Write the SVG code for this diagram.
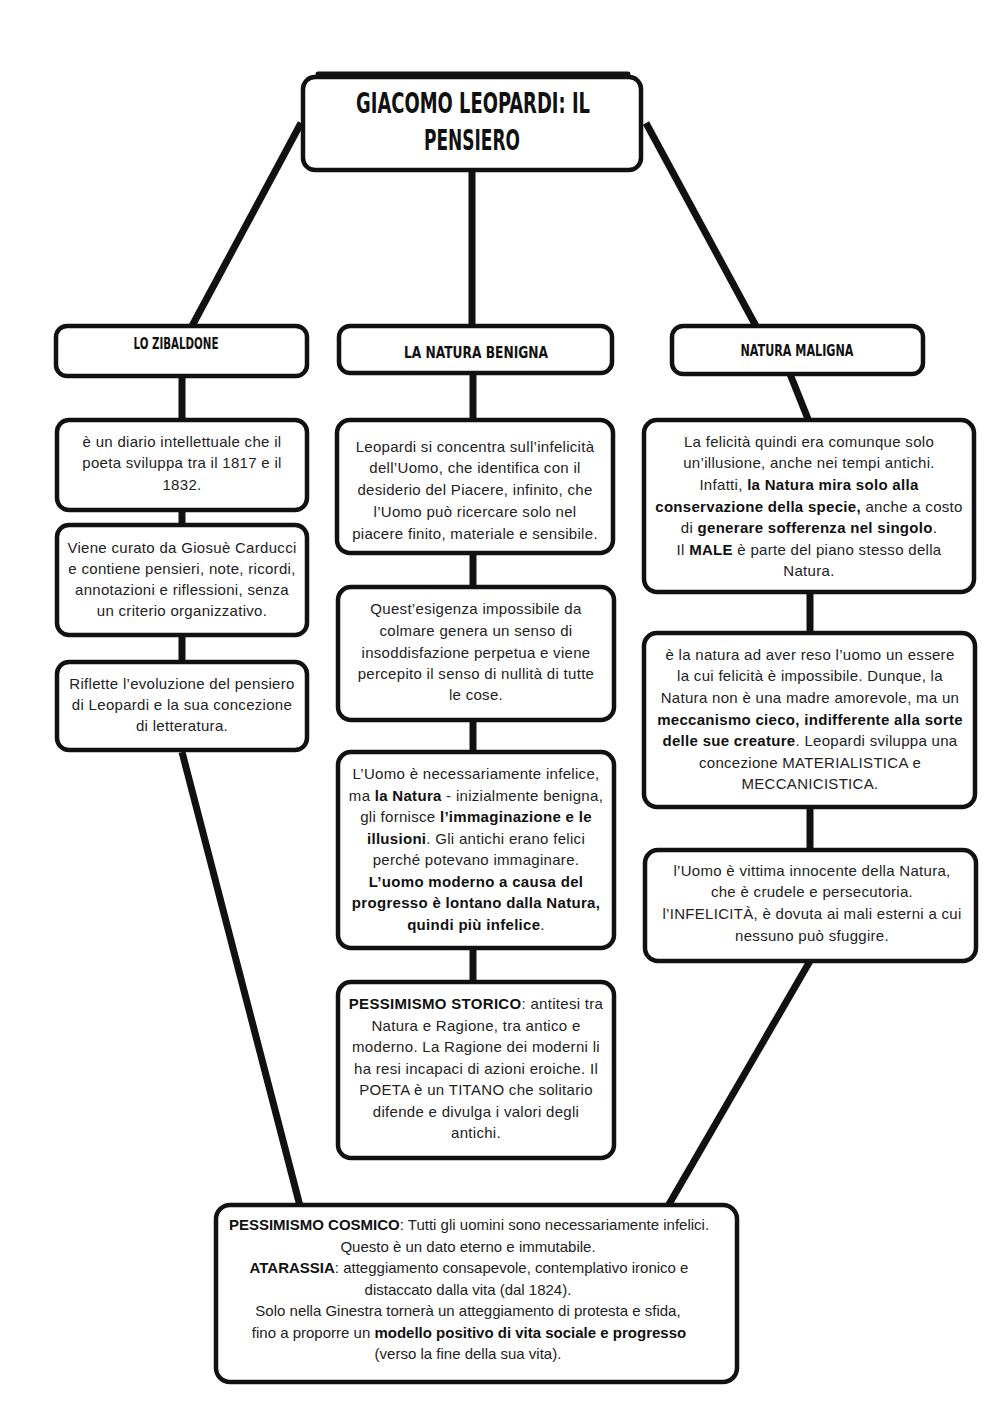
<svg xmlns="http://www.w3.org/2000/svg" width="1000" height="1414" viewBox="0 0 1000 1414">
<style>
.box{fill:#fff;stroke:#111;stroke-width:4.5}
.con{stroke:#111;stroke-width:7;fill:none;stroke-linecap:butt}
.t{font-family:"Liberation Sans",Arial,sans-serif;font-size:15px;fill:#222;text-anchor:middle;letter-spacing:0.3px}
.c .t{letter-spacing:0}
.b{font-weight:bold;fill:#111}
.h{font-family:"DejaVu Sans Condensed","DejaVu Sans",sans-serif;font-weight:bold;font-size:15px;fill:#111;text-anchor:middle}
.title{font-family:"DejaVu Sans Condensed","DejaVu Sans",sans-serif;font-weight:bold;font-size:29px;fill:#111;text-anchor:middle}
</style>
<rect width="1000" height="1414" fill="#fff"/>
<g id="connectors">
<line class="con" x1="301" y1="123" x2="192" y2="326"/>
<line class="con" x1="646" y1="123" x2="757" y2="328"/>
<line class="con" x1="472" y1="170" x2="472" y2="326"/>
<line class="con" x1="182" y1="376" x2="182" y2="420"/>
<line class="con" x1="182" y1="510" x2="182" y2="525"/>
<line class="con" x1="182" y1="635" x2="182" y2="662"/>
<line class="con" x1="182" y1="752" x2="300" y2="1206"/>
<line class="con" x1="473" y1="373" x2="473" y2="420"/>
<line class="con" x1="473" y1="553" x2="473" y2="587"/>
<line class="con" x1="473" y1="720" x2="473" y2="752"/>
<line class="con" x1="473" y1="948" x2="473" y2="982"/>
<line class="con" x1="790" y1="374" x2="808" y2="419"/>
<line class="con" x1="810" y1="592" x2="810" y2="633"/>
<line class="con" x1="810" y1="807" x2="810" y2="850"/>
<line class="con" x1="810" y1="961" x2="668" y2="1206"/>
</g>
<g id="title">
<rect class="box" x="303" y="77" width="338" height="93" rx="12"/>
<path d="M318,74 L628,74" stroke="#111" stroke-width="5" stroke-linecap="round"/>
<text class="title" x="473" y="113" textLength="234" lengthAdjust="spacingAndGlyphs">GIACOMO LEOPARDI: IL</text>
<text class="title" x="472" y="150" textLength="96" lengthAdjust="spacingAndGlyphs">PENSIERO</text>
</g>
<g id="zibaldone">
<rect class="box" x="56" y="326" width="251" height="50" rx="11"/>
<text class="h" x="176" y="349" textLength="85" lengthAdjust="spacingAndGlyphs">LO ZIBALDONE</text>
</g>
<g id="zib1">
<rect class="box" x="57" y="420" width="250" height="90" rx="12"/>
<text class="t" x="182" y="447">è un diario intellettuale che il</text>
<text class="t" x="182" y="468">poeta sviluppa tra il 1817 e il</text>
<text class="t" x="182" y="490">1832.</text>
</g>
<g id="zib2">
<rect class="box" x="57" y="525" width="250" height="110" rx="12"/>
<text class="t" x="182" y="553">Viene curato da Giosuè Carducci</text>
<text class="t" x="182" y="574">e contiene pensieri, note, ricordi,</text>
<text class="t" x="182" y="595">annotazioni e riflessioni, senza</text>
<text class="t" x="182" y="616">un criterio organizzativo.</text>
</g>
<g id="zib3">
<rect class="box" x="57" y="662" width="250" height="88" rx="12"/>
<text class="t" x="182" y="689">Riflette l’evoluzione del pensiero</text>
<text class="t" x="182" y="710">di Leopardi e la sua concezione</text>
<text class="t" x="182" y="731">di letteratura.</text>
</g>
<g id="benigna">
<rect class="box" x="339" y="326" width="273" height="47" rx="11"/>
<text class="h" x="476" y="358" textLength="144" lengthAdjust="spacingAndGlyphs">LA NATURA BENIGNA</text>
</g>
<g id="ben1">
<rect class="box" x="337" y="420" width="276" height="133" rx="13"/>
<text class="t" x="475" y="452">Leopardi si concentra sull’infelicità</text>
<text class="t" x="475" y="473">dell’Uomo, che identifica con il</text>
<text class="t" x="475" y="495">desiderio del Piacere, infinito, che</text>
<text class="t" x="475" y="517">l’Uomo può ricercare solo nel</text>
<text class="t" x="475" y="539">piacere finito, materiale e sensibile.</text>
</g>
<g id="ben2">
<rect class="box" x="338" y="587" width="276" height="133" rx="13"/>
<text class="t" x="476" y="614">Quest’esigenza impossibile da</text>
<text class="t" x="476" y="636">colmare genera un senso di</text>
<text class="t" x="476" y="658">insoddisfazione perpetua e viene</text>
<text class="t" x="476" y="679">percepito il senso di nullità di tutte</text>
<text class="t" x="476" y="700">le cose.</text>
</g>
<g id="ben3">
<rect class="box" x="338" y="752" width="276" height="196" rx="13"/>
<text class="t" x="476" y="779">L’Uomo è necessariamente infelice,</text>
<text class="t" x="476" y="801">ma <tspan class="b">la Natura</tspan> - inizialmente benigna,</text>
<text class="t" x="476" y="822">gli fornisce <tspan class="b">l’immaginazione e le</tspan></text>
<text class="t" x="476" y="844"><tspan class="b">illusioni</tspan>. Gli antichi erano felici</text>
<text class="t" x="476" y="865">perché potevano immaginare.</text>
<text class="t b" x="476" y="887">L’uomo moderno a causa del</text>
<text class="t b" x="476" y="908">progresso è lontano dalla Natura,</text>
<text class="t" x="476" y="930"><tspan class="b">quindi più infelice</tspan>.</text>
</g>
<g id="ben4">
<rect class="box" x="338" y="982" width="276" height="176" rx="13"/>
<text class="t" x="476" y="1009"><tspan class="b">PESSIMISMO STORICO</tspan>: antitesi tra</text>
<text class="t" x="476" y="1031">Natura e Ragione, tra antico e</text>
<text class="t" x="476" y="1052">moderno. La Ragione dei moderni li</text>
<text class="t" x="476" y="1074">ha resi incapaci di azioni eroiche. Il</text>
<text class="t" x="476" y="1095">POETA è un TITANO che solitario</text>
<text class="t" x="476" y="1117">difende e divulga i valori degli</text>
<text class="t" x="476" y="1138">antichi.</text>
</g>
<g id="maligna">
<rect class="box" x="672" y="326" width="251" height="48" rx="11"/>
<text class="h" x="797" y="356" textLength="113" lengthAdjust="spacingAndGlyphs">NATURA MALIGNA</text>
</g>
<g id="mal1">
<rect class="box" x="644" y="420" width="330" height="172" rx="13"/>
<text class="t" x="809" y="447">La felicità quindi era comunque solo</text>
<text class="t" x="809" y="468">un’illusione, anche nei tempi antichi.</text>
<text class="t" x="809" y="490">Infatti, <tspan class="b">la Natura mira solo alla</tspan></text>
<text class="t" x="809" y="512"><tspan class="b">conservazione della specie,</tspan> anche a costo</text>
<text class="t" x="809" y="533">di <tspan class="b">generare sofferenza nel singolo</tspan>.</text>
<text class="t" x="809" y="555">Il <tspan class="b">MALE</tspan> è parte del piano stesso della</text>
<text class="t" x="809" y="576">Natura.</text>
</g>
<g id="mal2">
<rect class="box" x="644" y="633" width="331" height="174" rx="13"/>
<text class="t" x="810" y="660">è la natura ad aver reso l’uomo un essere</text>
<text class="t" x="810" y="681">la cui felicità è impossibile. Dunque, la</text>
<text class="t" x="810" y="703">Natura non è una madre amorevole, ma un</text>
<text class="t b" x="810" y="725">meccanismo cieco, indifferente alla sorte</text>
<text class="t" x="810" y="746"><tspan class="b">delle sue creature</tspan>. Leopardi sviluppa una</text>
<text class="t" x="810" y="768">concezione MATERIALISTICA e</text>
<text class="t" x="810" y="789">MECCANICISTICA.</text>
</g>
<g id="mal3">
<rect class="box" x="645" y="850" width="331" height="111" rx="13"/>
<text class="t" x="812" y="876">l’Uomo è vittima innocente della Natura,</text>
<text class="t" x="812" y="897">che è crudele e persecutoria.</text>
<text class="t" x="812" y="919">l’INFELICITÀ, è dovuta ai mali esterni a cui</text>
<text class="t" x="812" y="941">nessuno può sfuggire.</text>
</g>
<g id="cosmico" class="c">
<rect class="box" x="216" y="1205" width="521" height="177" rx="14"/>
<text class="t" x="469" y="1230"><tspan class="b">PESSIMISMO COSMICO</tspan>: Tutti gli uomini sono necessariamente infelici.</text>
<text class="t" x="468" y="1252">Questo è un dato eterno e immutabile.</text>
<text class="t" x="469" y="1273"><tspan class="b">ATARASSIA</tspan>: atteggiamento consapevole, contemplativo ironico e</text>
<text class="t" x="468" y="1295">distaccato dalla vita (dal 1824).</text>
<text class="t" x="468" y="1316">Solo nella Ginestra tornerà un atteggiamento di protesta e sfida,</text>
<text class="t" x="469" y="1338">fino a proporre un <tspan class="b">modello positivo di vita sociale e progresso</tspan></text>
<text class="t" x="468" y="1359">(verso la fine della sua vita).</text>
</g>
</svg>
